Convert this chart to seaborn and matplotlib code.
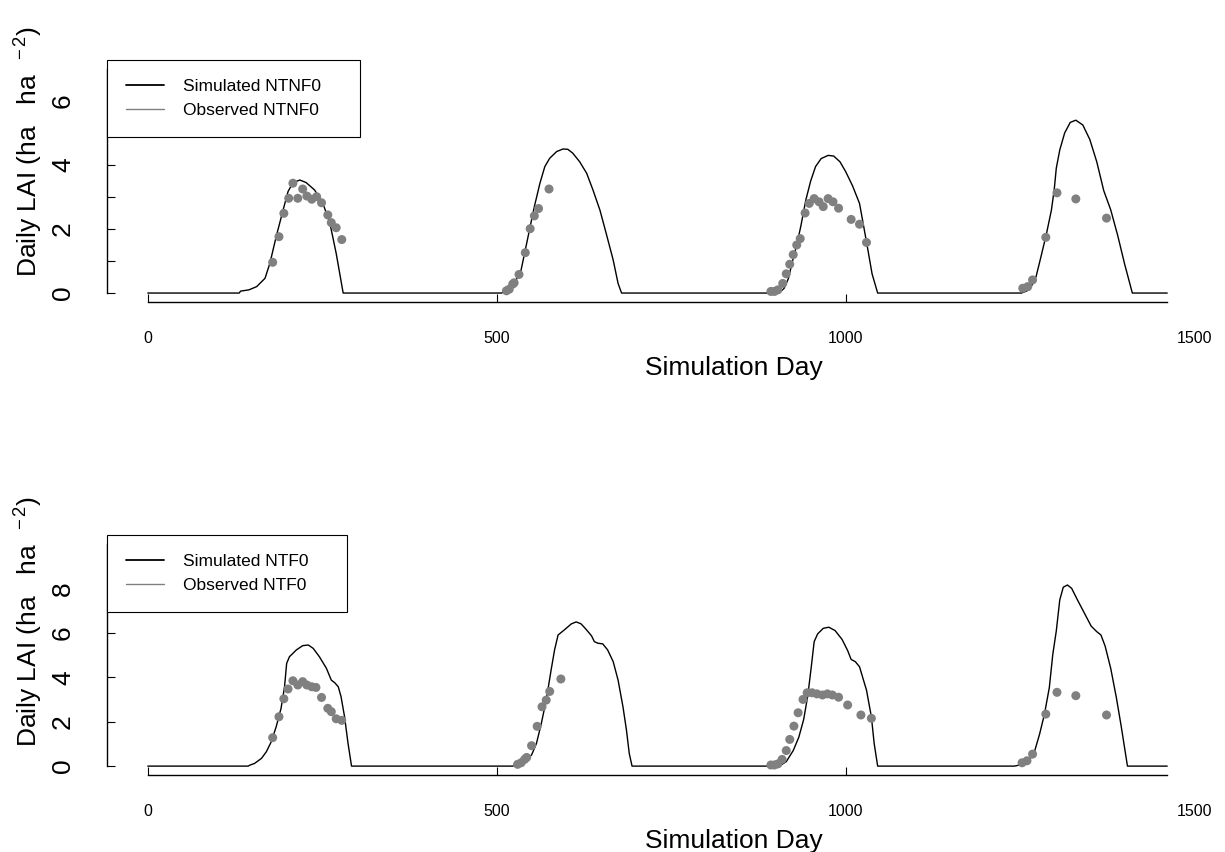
"""
Daily LAI: simulated vs observed for the NTNF0 and NTF0 treatments.
"""

import matplotlib
matplotlib.use("Agg")
import matplotlib.pyplot as plt
from matplotlib.lines import Line2D
import seaborn as sns

# ----------------------------------------------------------
# 1. Data
# ----------------------------------------------------------
# Simulated NTNF0 - vertices of the daily curve
sim_ntnf0_day = [0, 131, 133, 145, 156, 168, 175, 184, 194, 201, 208, 218, 227, 239, 251, 261, 270, 280,
                 507, 519, 528, 535, 540, 547, 554, 562, 569, 576, 586, 595, 602, 609, 619, 629, 638, 648,
                 657, 667, 674, 679,
                 905, 912, 918, 924, 930, 936, 943, 950, 957, 965, 975, 983, 992, 1000, 1010, 1020, 1030,
                 1038, 1046,
                 1252, 1258, 1264, 1273, 1280, 1288, 1295, 1299, 1302, 1307, 1314, 1322, 1330, 1340, 1350,
                 1360, 1370, 1380, 1390, 1400, 1411, 1461]
sim_ntnf0_lai = [0, 0, 0.06, 0.1, 0.2, 0.46, 0.93, 1.76, 2.6, 3.17, 3.45, 3.53, 3.45, 3.22, 2.8, 2.18, 1.24, 0,
                 0, 0.15, 0.41, 0.72, 1.24, 1.97, 2.7, 3.43, 3.95, 4.21, 4.42, 4.5, 4.49, 4.37, 4.1, 3.74,
                 3.22, 2.59, 1.86, 1.03, 0.3, 0,
                 0, 0.15, 0.45, 1.0, 1.5, 2.1, 2.9, 3.5, 3.95, 4.2, 4.3, 4.28, 4.1, 3.8, 3.35, 2.8, 1.6,
                 0.6, 0,
                 0, 0.05, 0.11, 0.51, 1.13, 1.86, 2.59, 3.22, 3.9, 4.47, 5.0, 5.33, 5.4, 5.25, 4.8,
                 4.1, 3.2, 2.6, 1.8, 0.9, 0, 0]

# Observed NTNF0
obs_ntnf0_day = [179, 188, 195, 202, 208, 215, 222, 228, 235, 242, 249, 258, 263, 270, 278,
                 514, 518, 523, 525, 532, 541, 548, 554, 560, 575,
                 893, 898, 903, 910, 915, 920, 925, 930, 935, 942, 948, 955, 962, 968, 975, 982, 990,
                 1008, 1020, 1030,
                 1254, 1261, 1268, 1287, 1303, 1330, 1374]
obs_ntnf0_lai = [0.96, 1.76, 2.49, 2.96, 3.43, 2.96, 3.25, 3.03, 2.93, 3.01, 2.82, 2.44, 2.2, 2.04, 1.67,
                 0.07, 0.12, 0.28, 0.32, 0.58, 1.26, 2.01, 2.41, 2.64, 3.25,
                 0.05, 0.05, 0.1, 0.3, 0.6, 0.9, 1.2, 1.5, 1.7, 2.5, 2.8, 2.95, 2.85, 2.7, 2.95, 2.85, 2.65,
                 2.3, 2.15, 1.58,
                 0.15, 0.2, 0.41, 1.74, 3.13, 2.94, 2.34]

# Simulated NTF0
sim_ntf0_day = [0, 144, 146, 153, 163, 170, 177, 184, 191, 196, 199, 203, 213, 222, 230, 237, 246, 256, 263,
                268, 273, 277, 282, 287, 292,
                523, 533, 542, 550, 557, 564, 571, 578, 583, 588, 597, 607, 614, 621, 628, 636, 640, 645,
                652, 659, 667, 674, 681, 686, 690, 694,
                905, 915, 925, 933, 940, 946, 951, 955, 960, 968, 976, 985, 995, 1003, 1008, 1014, 1020,
                1030, 1037, 1041, 1046,
                1242, 1254, 1264, 1271, 1278, 1285, 1292, 1297, 1302, 1307, 1312, 1318, 1324, 1332, 1342,
                1352, 1360, 1366, 1372, 1380, 1388, 1395, 1400, 1404, 1461]
sim_ntf0_lai = [0, 0, 0.04, 0.12, 0.35, 0.65, 1.1, 1.77, 2.6, 3.57, 4.62, 4.92, 5.23, 5.42, 5.45, 5.3, 4.92,
                4.4, 3.87, 3.75, 3.57, 3.12, 2.22, 1.02, 0,
                0, 0.12, 0.27, 0.5, 1.02, 1.92, 2.97, 4.32, 5.23, 5.9, 6.13, 6.4, 6.49, 6.4, 6.16, 5.86,
                5.6, 5.53, 5.5, 5.23, 4.7, 3.87, 2.67, 1.62, 0.57, 0,
                0, 0.2, 0.7, 1.3, 2.1, 3.2, 4.5, 5.6, 5.95, 6.2, 6.25, 6.1, 5.7, 5.2, 4.8, 4.7, 4.47,
                3.42, 2.22, 1.02, 0,
                0, 0.08, 0.3, 0.68, 1.43, 2.33, 3.53, 5.03, 6.08, 7.48, 8.05, 8.15, 8.0, 7.5, 6.9,
                6.3, 6.05, 5.9, 5.4, 4.4, 3.1, 1.8, 0.8, 0, 0]

# Observed NTF0
obs_ntf0_day = [179, 188, 195, 201, 208, 215, 222, 228, 235, 241, 249, 258, 263, 270, 278,
                530, 535, 540, 543, 550, 558, 565, 571, 576, 592,
                893, 898, 903, 909, 915, 920, 926, 932, 939, 945, 952, 959, 967, 974, 981, 990, 1003,
                1022, 1037,
                1253, 1260, 1268, 1287, 1303, 1330, 1374]
obs_ntf0_lai = [1.28, 2.22, 3.03, 3.47, 3.84, 3.65, 3.8, 3.65, 3.57, 3.54, 3.09, 2.6, 2.45, 2.13, 2.06,
                0.08, 0.15, 0.3, 0.39, 0.92, 1.79, 2.67, 2.97, 3.36, 3.92,
                0.05, 0.05, 0.1, 0.3, 0.7, 1.2, 1.8, 2.4, 3.0, 3.3, 3.3, 3.25, 3.2, 3.25, 3.2, 3.1, 2.75,
                2.3, 2.15,
                0.15, 0.24, 0.54, 2.34, 3.32, 3.17, 2.3]

x_ticks = [0, 500, 1000, 1500]
last_day = 1461

# ----------------------------------------------------------
# 2. Style
# ----------------------------------------------------------
sns.set_style("ticks")
plt.rcParams["font.family"] = ["Liberation Sans", "DejaVu Sans"]
plt.rcParams["mathtext.fontset"] = "custom"
plt.rcParams["mathtext.rm"] = "Liberation Sans"
plt.rcParams["mathtext.it"] = "Liberation Sans"
for key in ("text.color", "axes.labelcolor", "xtick.color", "ytick.color"):
    plt.rcParams[key] = "black"

fig = plt.figure(figsize=(12.25, 8.52), dpi=100)
ax_top = fig.add_axes([0.08735, 0.64554, 0.89878, 0.28404])
ax_bot = fig.add_axes([0.08735, 0.09038, 0.89878, 0.28169])

ylabel = r"Daily LAI (ha   ha  $^{-\,2}$)"


def draw_panel(ax, sim_day, sim_lai, obs_day, obs_lai, name, ymax, yticks, ylabels, label_y):
    sns.lineplot(x=sim_day, y=sim_lai, ax=ax, color="black", linewidth=1.0,
                 estimator=None, sort=False, zorder=2)
    sns.scatterplot(x=obs_day, y=obs_lai, ax=ax, color="#808080", s=42,
                    edgecolor="none", linewidth=0, zorder=3)

    pad = 0.04 * ymax
    ax.set_ylim(-pad, ymax + pad)
    ax.set_xlim(-0.04 * last_day, 1.04 * last_day)

    ax.spines["top"].set_visible(False)
    ax.spines["right"].set_visible(False)
    ax.spines["left"].set_bounds(0, ymax)
    ax.spines["bottom"].set_bounds(0, last_day)
    for sp in ("left", "bottom"):
        ax.spines[sp].set_linewidth(1.0)
        ax.spines[sp].set_color("black")

    ax.set_xticks(x_ticks)
    ax.set_xticklabels([str(t) for t in x_ticks])
    ax.xaxis.get_major_ticks()[-1].tick1line.set_visible(False)
    ax.tick_params(axis="x", direction="in", length=6, width=0.8, pad=21, labelsize=11.5)

    ax.set_yticks(yticks)
    ax.set_yticklabels(ylabels)
    ax.tick_params(axis="y", direction="in", length=6, width=0.8, pad=23,
                   labelsize=19, labelrotation=90)
    for lab in ax.get_yticklabels():
        lab.set_verticalalignment("center")

    ax.set_xlabel("Simulation Day", fontsize=19)
    ax.xaxis.set_label_coords(0.569, -0.225)
    ax.set_ylabel(ylabel, fontsize=19)
    ax.yaxis.set_label_coords(-0.056, label_y)

    handles = [Line2D([], [], color="black", linewidth=1.3),
               Line2D([], [], color="#808080", linewidth=1.0)]
    leg = ax.legend(handles, ["Simulated " + name + "    ", "Observed " + name + "    "],
                    loc="upper left", bbox_to_anchor=(0, 1.0), borderaxespad=0,
                    fontsize=12.5, frameon=True, fancybox=False, framealpha=1,
                    handlelength=2.2, handletextpad=1.1, borderpad=1.1, labelspacing=0.5)
    leg.get_frame().set_edgecolor("black")
    leg.get_frame().set_linewidth(0.8)
    leg.set_zorder(5)


# ----------------------------------------------------------
# 3. Panels
# ----------------------------------------------------------
draw_panel(ax_top, sim_ntnf0_day, sim_ntnf0_lai, obs_ntnf0_day, obs_ntnf0_lai, "NTNF0",
           7, list(range(0, 8)), ["0", "", "2", "", "4", "", "6", ""], 0.62)
draw_panel(ax_bot, sim_ntf0_day, sim_ntf0_lai, obs_ntf0_day, obs_ntf0_lai, "NTF0",
           10, [0, 2, 4, 6, 8, 10], ["0", "2", "4", "6", "8", ""], 0.6375)

plt.savefig("out.png", dpi=100)
